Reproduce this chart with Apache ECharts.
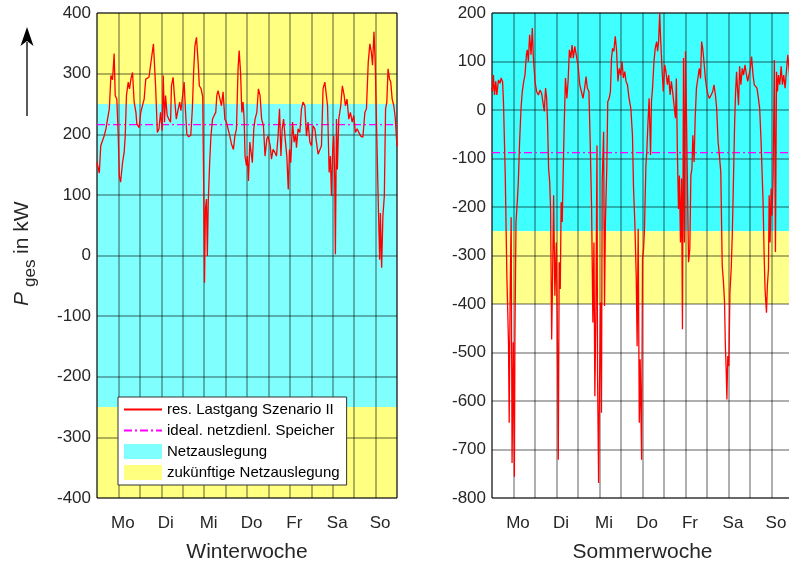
<!DOCTYPE html>
<html>
<head>
<meta charset="utf-8">
<script src="https://cdn.jsdelivr.net/npm/echarts@6/dist/echarts.min.js"></script>
<style>
  html, body { margin: 0; padding: 0; background: #fff; }
  #chart { width: 789px; height: 565px; }
</style>
</head>
<body>
<div id="chart"></div>
<script>
// Wochentage (Beschriftung jeweils 12 Uhr)
const dayLabels = ['Mo', 'Di', 'Mi', 'Do', 'Fr', 'Sa', 'So'];

// Winterwoche: Zeit in h, resultierender Lastgang in kW
const winterHours = [0,1.3,2.1,3.2,4,5,5.9,6.9,7.8,8.7,9.6,10.2,11.1,11.9,12.5,13.2,14.3,15.2,15.8,16.5,17.5,18.2,19,19.9,20.8,21.8,22.3,23.6,24.5,25.4,26.4,27.3,28.2,29.1,30.5,31.6,32.3,32.8,33.8,34.7,35.6,36.5,37.1,37.8,38.4,39.3,40.2,41.2,41.7,42.6,43.5,44.4,45.1,46.3,47,47.9,48.8,49.6,50.3,51.2,52.5,53.4,54.1,54.8,55.7,56.6,57.3,58.3,59.2,59.8,60.2,60.7,61.3,61.8,62.3,63.1,63.8,64.7,65.6,66.5,67.1,67.8,68.8,69.7,70.6,71.6,72.5,73.4,74.4,75.3,76.4,77.2,78.1,79,79.6,80.4,81.1,81.8,82.4,82.9,83.7,84.2,84.8,85.6,86.1,87,87.8,88.5,89.5,90.4,91.3,92.2,93.2,94.1,95.1,95.8,97,97.7,98.6,99.6,100.5,101.4,102.2,103,103.7,104.5,105.4,106.3,107.1,107.8,108.5,109.5,110.4,111.2,111.7,112.6,113.6,114.5,115.4,116.4,117.3,118.2,119.2,120.1,121,122,122.9,123.8,124.8,125.7,126.6,127.6,128.5,129.1,130,130.7,131.3,132,132.6,133.1,133.5,134.1,134.6,135.4,136.5,137.4,138.4,139.1,140,141,141.9,142.9,143.8,144.7,145.7,146.6,147.7,148.9,150,150.9,151.9,152.8,153.6,154.3,155.1,155.8,156.6,157.5,158.3,158.7,159.4,160.1,160.9,161.6,162.3,163,163.8,164.5,165.3,166.2,167,168];
const winterLoad = [153,136,181,184,197,209,225,242,297,290,333,264,258,197,131,121,153,170,197,264,286,275,291,302,253,236,217,211,236,234,258,291,291,294,325,349,347,280,203,209,236,206,297,220,264,231,225,220,280,294,258,225,236,253,239,242,286,236,200,196,198,242,302,345,360,320,280,275,262,98,-45,76,93,-1,88,154,197,225,231,236,264,272,275,247,270,225,220,209,197,184,175,197,209,308,338,302,236,253,225,164,148,164,123,187,175,153,209,225,236,275,264,225,214,164,192,197,181,159,175,170,164,197,242,164,209,225,192,164,109,175,153,220,187,200,178,209,203,242,253,247,197,220,187,181,214,209,187,167,170,181,275,286,283,247,137,164,98,175,197,131,2,225,142,225,247,280,264,247,258,225,236,220,231,203,209,203,197,195,236,242,319,349,336,314,369,319,209,88,-7,70,-20,65,98,242,253,308,291,286,258,247,228,180];

// Sommerwoche: Zeit in h, resultierender Lastgang in kW
const summerHours = [0,0.3,0.8,1.4,2.1,2.7,3.6,4.5,5.1,5.9,6.4,7.4,8.3,9.2,9.6,10.1,10.7,11.2,11.9,12.5,12.8,13.4,14.1,14.7,15.4,16.2,16.9,17.7,18.4,19.2,19.7,20.3,21,21.8,22.5,23.1,24,24.9,25.9,26.8,27.7,28.6,29.2,29.9,30.5,31,31.6,32.2,32.7,33.3,33.8,34.4,35.1,35.9,36.4,37,37.5,38.1,38.6,39.2,39.7,40.3,41,41.8,42.5,43.2,44,44.7,45.4,46.2,47.1,48,49,49.9,50.8,51.7,52.5,53.2,54.1,54.8,55.6,56.3,56.9,57.4,58,58.6,58.9,59.5,60,60.6,61.1,61.5,62.3,62.8,63.3,64.1,64.6,65.4,66.1,66.7,67.3,68,68.8,69.5,70.3,71,71.8,72.6,73.3,74.1,74.8,75.6,76.5,77.5,78.4,79,79.7,80.5,81,81.6,82.2,82.7,83.5,84,84.6,85.1,85.9,86.4,87,87.7,88.5,89,89.6,90.4,91.1,91.9,92.4,93,93.6,94.1,94.8,95.6,96.4,97.1,97.9,98.6,99.4,100.1,100.8,101.6,102.4,102.9,103.5,104.1,104.6,105.2,105.8,106.3,106.9,107.4,108,108.4,108.9,109.7,110.4,111,111.6,112.1,112.8,113.4,114.1,114.9,115.7,116.4,117,117.6,118.3,119.1,119.8,120.6,121.3,122.3,123.2,123.9,124.7,125.4,126.2,126.9,127.7,128.5,129.2,129.8,130.2,130.7,131.1,131.6,132.2,132.8,133.5,134.1,134.6,135.4,135.9,136.5,137,137.6,138.2,138.9,139.7,140.4,141.2,141.9,142.7,143.4,144.2,144.9,145.7,146.4,147.2,147.9,148.7,149.4,150.2,150.8,151.3,151.9,152.4,153.2,153.7,154.3,154.7,155.2,155.8,156.3,156.9,157.6,158.2,158.8,159.3,159.9,160.6,161.4,162.1,162.8,163.6,164.3,165.1,165.6,166.2,167,168];
const summerLoad = [45,38,72,31,59,31,62,55,66,59,17,-135,-342,-479,-645,-390,-221,-728,-479,-756,-466,-231,-190,-148,-66,3,38,59,72,114,124,100,155,114,169,107,59,38,31,41,34,31,-3,45,24,-24,-121,-148,-204,-473,-349,-176,-383,-273,-431,-721,-314,-369,-190,-231,-135,-31,66,24,62,124,107,134,107,131,134,93,52,38,24,45,69,45,38,-66,-204,-438,-273,-590,-411,-73,-541,-769,-570,-397,-624,-148,-45,-404,-231,-114,17,24,38,107,127,121,152,124,59,86,72,100,66,79,59,52,24,3,-52,-162,-231,-342,-487,-245,-645,-514,-721,-307,-287,-245,-114,-86,-31,24,-93,17,45,100,127,141,121,141,200,148,93,38,93,79,52,72,31,59,38,10,-17,65,-93,-204,-135,-273,-141,-452,107,-273,121,24,-107,-314,-287,-135,-121,-52,-107,-17,45,65,86,65,141,127,100,65,45,31,24,31,38,52,31,3,-66,-93,-128,-321,-356,-397,-479,-535,-597,-507,-528,-376,-328,-259,-176,-31,31,79,45,10,90,52,86,72,93,76,59,55,86,110,72,52,48,45,24,3,-66,-135,-190,-300,-369,-418,-362,-328,-176,-273,-162,-218,-135,103,-293,79,38,72,52,90,52,72,45,79,114,93,65,90,75];

// Leistung des idealen netzdienlichen Speichers in kW
const storageWinter = 216;
const storageSummer = -88;

// Netzauslegung und zukünftige Netzauslegung (± kW)
const gridLimit = 250;
const futureGridLimit = 400;

// Achsbereiche
const winterRange = [-400, 400];
const summerRange = [-800, 200];
const weekHours = [0, 168];

const FONT = '"Liberation Sans", Arial, Helvetica, sans-serif';
const TEXT = '#262626';

const palette = {
  winter: { cyan: '#80FFFF', yellow: '#FFFF80' },
  summer: { cyan: '#40FFFF', yellow: '#FFFF8C' }
};

const zip = (xs, ys) => xs.map((x, i) => [x, ys[i]]);

function clampTo(range, v) { return Math.max(range[0], Math.min(range[1], v)); }

// Rechteckige Bänder über die ganze Woche
function bands(range, spans) {
  return spans
    .map(([a, b]) => [clampTo(range, a), clampTo(range, b)])
    .filter(([a, b]) => b > a)
    .map(([a, b]) => [{ xAxis: weekHours[0], yAxis: a }, { xAxis: weekHours[1], yAxis: b }]);
}

function bandSeries(name, idx, color, range, spans) {
  return {
    name, type: 'line', xAxisIndex: idx, yAxisIndex: idx, z: 1,
    data: [], symbol: 'none', color,
    lineStyle: { width: 0 },
    markArea: { silent: true, itemStyle: { color, opacity: 1 }, data: bands(range, spans) }
  };
}

function xAxisFor(idx) {
  return {
    type: 'value', gridIndex: idx, min: weekHours[0], max: weekHours[1], interval: 12, z: 2,
    axisLine: { show: false }, axisTick: { show: false },
    splitLine: { show: true, lineStyle: { color: 'rgba(0,0,0,0.42)', width: 1.5 } },
    axisLabel: {
      margin: 17, fontSize: 17, color: TEXT, fontFamily: FONT, padding: [0, 0, 0, 9],
      formatter: v => ((v - 12) % 24 === 0 ? dayLabels[(v - 12) / 24] : '')
    },
    name: idx === 0 ? 'Winterwoche' : 'Sommerwoche',
    nameLocation: 'middle', nameGap: 44,
    nameTextStyle: { fontSize: 21, color: TEXT, fontFamily: FONT }
  };
}

function yAxisFor(idx, range) {
  return {
    type: 'value', gridIndex: idx, min: range[0], max: range[1], interval: 100, z: 2,
    axisLine: { show: false }, axisTick: { show: false },
    splitLine: { show: true, lineStyle: { color: 'rgba(0,0,0,0.42)', width: 1.5 } },
    axisLabel: { margin: 6, fontSize: 17, color: TEXT, fontFamily: FONT }
  };
}

const chart = echarts.init(document.getElementById('chart'), null, { renderer: 'canvas' });

const option = {
  animation: false,
  backgroundColor: '#fff',
  grid: [
    { left: 97, top: 13, width: 300, height: 485, show: true, z: 2, borderColor: '#333', borderWidth: 1, backgroundColor: 'transparent', outerBoundsMode: 'none' },
    { left: 492, top: 13, width: 301, height: 485, show: true, z: 2, borderColor: '#333', borderWidth: 1, backgroundColor: 'transparent', outerBoundsMode: 'none' }
  ],
  xAxis: [xAxisFor(0), xAxisFor(1)],
  yAxis: [yAxisFor(0, winterRange), yAxisFor(1, summerRange)],
  legend: {
    orient: 'vertical', left: 118, top: 397,
    backgroundColor: '#fff', borderColor: '#333', borderWidth: 1,
    padding: [5, 7, 5, 5], itemGap: 6, itemWidth: 38, itemHeight: 15,
    textStyle: { fontSize: 15, color: '#000', fontFamily: FONT },
    selectedMode: false,
    data: [
      { name: 'res. Lastgang Szenario II', itemStyle: { opacity: 0 } },
      { name: 'ideal. netzdienl. Speicher', itemStyle: { opacity: 0 } },
      { name: 'Netzauslegung', icon: 'rect', itemStyle: { color: palette.winter.cyan } },
      { name: 'zukünftige Netzauslegung', icon: 'rect', itemStyle: { color: palette.winter.yellow } }
    ]
  },
  graphic: [
    // Achsbeschriftung P_ges in kW (gedreht, mit Index)
    {
      type: 'text', x: 12, y: 306, rotation: Math.PI / 2,
      style: { text: 'P', fontSize: 21, fontStyle: 'italic', fontFamily: FONT, fill: TEXT, align: 'left', verticalAlign: 'top' }
    },
    {
      type: 'text', x: 22, y: 287, rotation: Math.PI / 2,
      style: { text: 'ges', fontSize: 17, fontFamily: FONT, fill: TEXT, align: 'left', verticalAlign: 'top' }
    },
    {
      type: 'text', x: 12, y: 254, rotation: Math.PI / 2,
      style: { text: 'in kW', fontSize: 21, fontFamily: FONT, fill: TEXT, align: 'left', verticalAlign: 'top' }
    },
    { type: 'line', shape: { x1: 27, y1: 42, x2: 27, y2: 116 }, style: { stroke: '#000', lineWidth: 1.3 } },
    { type: 'polygon', shape: { points: [[27, 27], [20.5, 46], [27, 41], [33.5, 46]] }, style: { fill: '#000' } }
  ],
  series: [
    bandSeries('Netzauslegung', 0, palette.winter.cyan, winterRange, [[-gridLimit, gridLimit]]),
    bandSeries('zukünftige Netzauslegung', 0, palette.winter.yellow, winterRange, [[-futureGridLimit, -gridLimit], [gridLimit, futureGridLimit]]),
    bandSeries('Netzauslegung', 1, palette.summer.cyan, summerRange, [[-gridLimit, gridLimit]]),
    bandSeries('zukünftige Netzauslegung', 1, palette.summer.yellow, summerRange, [[-futureGridLimit, -gridLimit], [gridLimit, futureGridLimit]]),
    {
      name: 'res. Lastgang Szenario II', type: 'line', xAxisIndex: 0, yAxisIndex: 0, z: 4,
      symbol: 'none', color: '#FF0000', lineStyle: { color: '#FF0000', width: 1.3 },
      data: zip(winterHours, winterLoad)
    },
    {
      name: 'res. Lastgang Szenario II', type: 'line', xAxisIndex: 1, yAxisIndex: 1, z: 4,
      symbol: 'none', color: '#FF0000', lineStyle: { color: '#FF0000', width: 1.3 },
      data: zip(summerHours, summerLoad)
    },
    {
      name: 'ideal. netzdienl. Speicher', type: 'line', xAxisIndex: 0, yAxisIndex: 0, z: 3,
      symbol: 'none', color: '#FF00FF', lineStyle: { color: '#FF00FF', width: 1.3, type: [8, 3, 2, 3] },
      data: weekHours.map(h => [h, storageWinter])
    },
    {
      name: 'ideal. netzdienl. Speicher', type: 'line', xAxisIndex: 1, yAxisIndex: 1, z: 3,
      symbol: 'none', color: '#FF00FF', lineStyle: { color: '#FF00FF', width: 1.3, type: [8, 3, 2, 3] },
      data: weekHours.map(h => [h, storageSummer])
    }
  ]
};

chart.setOption(option);
</script>
</body>
</html>
